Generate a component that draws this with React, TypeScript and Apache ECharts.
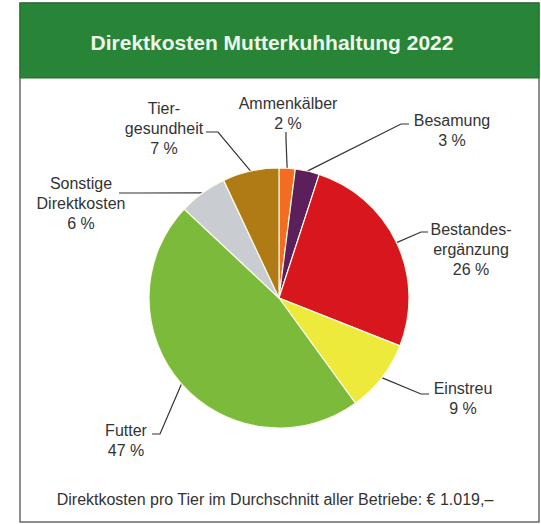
import React, { useEffect, useRef } from "react";
import * as echarts from "echarts";

// Cost categories (clockwise from 12 o'clock) and their share in percent
const categories = [
  "Ammenkälber",
  "Besamung",
  "Bestandes-\nergänzung",
  "Einstreu",
  "Futter",
  "Sonstige\nDirektkosten",
  "Tier-\ngesundheit",
];
const shares = [2, 3, 26, 9, 47, 6, 7];
const sliceColors = [
  "#f36c21",
  "#5b1f5c",
  "#d7161d",
  "#eeea3c",
  "#7bba3b",
  "#c9cdd1",
  "#b07b14",
];

const titleText = "Direktkosten Mutterkuhhaltung 2022";
const footerText =
  "Direktkosten pro Tier im Durchschnitt aller Betriebe: € 1.019,–";

// Where each label block sits and how its leader line bends toward it
const labelSpots: { x: number; y: number; bend: number[]; end: number[] }[] = [
  { x: 288, y: 113, bend: [286, 140], end: [286, 132] },
  { x: 452, y: 130, bend: [401, 124], end: [409, 124] },
  { x: 471, y: 249, bend: [421, 232], end: [428, 232] },
  { x: 463, y: 398, bend: [421, 394], end: [429, 394] },
  { x: 126, y: 440, bend: [160, 434], end: [152, 434] },
  { x: 81, y: 203, bend: [140, 193], end: [119, 193] },
  { x: 164, y: 128, bend: [218, 132], end: [206, 132] },
];

const FONT = "'Liberation Sans', Arial, Helvetica, sans-serif";

export default function App() {
  const ref = useRef<HTMLDivElement>(null);

  useEffect(() => {
    if (!ref.current) return;
    const chart = echarts.init(ref.current, null, { renderer: "svg" });

    chart.setOption({
      animation: false,
      backgroundColor: "#ffffff",
      graphic: [
        {
          type: "rect",
          shape: { x: 20, y: 3, width: 519, height: 519 },
          style: { fill: "#ffffff", stroke: "#6a6a6a", lineWidth: 1.5 },
          z: 0,
        },
        {
          type: "rect",
          shape: { x: 20, y: 3, width: 519, height: 75 },
          style: { fill: "#288537", stroke: "#1f6e2c", lineWidth: 1 },
          z: 1,
        },
        {
          type: "text",
          x: 272,
          y: 42,
          style: {
            text: titleText,
            fill: "#eef6ea",
            font: `bold 21px ${FONT}`,
            align: "center",
            verticalAlign: "middle",
          },
          z: 2,
        },
        {
          type: "text",
          x: 275,
          y: 499,
          style: {
            text: footerText,
            fill: "#333333",
            font: `16px ${FONT}`,
            align: "center",
            verticalAlign: "middle",
          },
          z: 2,
        },
      ],
      series: [
        {
          type: "pie",
          center: [279, 298],
          radius: 130,
          startAngle: 90,
          clockwise: true,
          z: 3,
          itemStyle: { borderColor: "#fbfbe8", borderWidth: 1.2 },
          label: {
            show: true,
            position: "outside",
            color: "#333333",
            fontFamily: FONT,
            fontSize: 16,
            lineHeight: 20,
            align: "center",
            formatter: (p: any) => `${p.name}\n${p.value} %`,
          },
          labelLine: {
            show: true,
            length: 10,
            length2: 10,
            lineStyle: { color: "#333333", width: 1.2 },
          },
          labelLayout: (params: any) => {
            const spot = labelSpots[params.dataIndex];
            const pts = params.labelLinePoints;
            const start = pts && pts.length ? pts[0] : spot.bend;
            return {
              x: spot.x,
              y: spot.y,
              align: "center",
              verticalAlign: "middle",
              labelLinePoints: [start, spot.bend, spot.end],
            };
          },
          emphasis: { disabled: true },
          data: categories.map((name, i) => ({
            name,
            value: shares[i],
            itemStyle: { color: sliceColors[i] },
          })),
        },
      ],
    });

    return () => chart.dispose();
  }, []);

  return (
    <div
      ref={ref}
      style={{ position: "absolute", left: 0, top: 0, width: 541, height: 524 }}
    />
  );
}
